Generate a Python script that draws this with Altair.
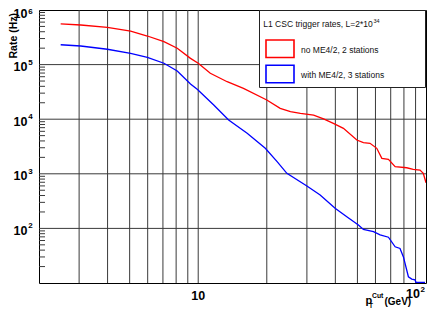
import altair as alt
import pandas as pd

# ---- data ----
SERIES = ["no ME4/2, 2 stations", "with ME4/2, 3 stations"]
COLORS = ["#ff0000", "#0000ff"]

red_x = [2.49, 3.05, 3.99, 5.05, 5.98, 7.07, 8.09, 9.25, 10.0, 11.3, 13.4, 15.8, 20.0, 22.9,
         25.4, 28.1, 32.1, 35.5, 39.2, 43.4, 49.7, 53.1, 56.8, 60.8, 64.0, 68.4, 73.2, 82.3,
         87.9, 94.1, 97.3, 100.0]
red_y = [5.55e5, 5.31e5, 4.82e5, 4.12e5, 3.34e5, 2.63e5, 1.99e5, 1.30e5, 1.06e5, 6.93e4,
         4.86e4, 3.68e4, 2.25e4, 1.58e4, 1.37e4, 1.28e4, 1.19e4, 1.01e4, 8.41e3, 6.81e3,
         4.16e3, 3.71e3, 3.62e3, 2.93e3, 1.92e3, 1.84e3, 1.35e3, 1.29e3, 1.21e3, 1.17e3,
         1.02e3, 687]

blue_x = [2.49, 3.05, 3.99, 5.05, 5.98, 7.07, 8.09, 9.25, 9.9, 11.7, 13.6, 16.4, 19.7, 22.2,
          24.5, 30.0, 34.3, 39.9, 44.9, 50.5, 53.1, 58.8, 62.9, 68.4, 73.2, 76.9, 79.6, 83.7,
          86.6, 89.5, 90.3, 99.0]
blue_y = [2.31e5, 2.19e5, 1.91e5, 1.61e5, 1.36e5, 1.06e5, 7.64e4, 4.41e4, 3.53e4, 1.82e4,
          9.67e3, 5.52e3, 2.93e3, 1.67e3, 1.02e3, 598, 409, 233, 164, 115, 96, 87, 76, 69,
          46, 43, 30, 13, 11.8, 11.4, 10.3, 10.3]

X_DOMAIN = [2, 100]
Y_DOMAIN = [10, 1e6]
X_GRID = [3, 4, 5, 6, 7, 8, 9, 10, 20, 30, 40, 50, 60, 70, 80, 90]
Y_GRID = [1e2, 1e3, 1e4, 1e5]
Y_MINOR = [k * 10 ** n for n in range(1, 6) for k in range(2, 10)]
Y_LABEL_EXP = ["2", "3", "4", "5"]
Y_TOP_EXP = "6"
LEGEND_TITLE = "L1 CSC trigger rates, L=2*10"
LEGEND_TITLE_SUP = "34"
X_TITLE = ["p", "T", "Cut", "(GeV)"]
Y_TITLE = "Rate (Hz)"

# ---- build ----
FONT = "Liberation Sans"
GRID = "#3a3a3a"
xs = alt.Scale(type="log", domain=X_DOMAIN, nice=False)
ys = alt.Scale(type="log", domain=Y_DOMAIN, nice=False)

curves = pd.concat([
    pd.DataFrame({"x": red_x, "y": red_y, "series": SERIES[0]}),
    pd.DataFrame({"x": blue_x, "y": blue_y, "series": SERIES[1]}),
])

vgrid = alt.Chart(pd.DataFrame({"gx": X_GRID})).mark_rule(color=GRID, strokeWidth=1).encode(
    x=alt.X("gx:Q", scale=xs, axis=None))
hgrid = alt.Chart(pd.DataFrame({"gy": Y_GRID})).mark_rule(color=GRID, strokeWidth=1).encode(
    y=alt.Y("gy:Q", scale=ys, axis=None))
yminor = alt.Chart(pd.DataFrame({"v": Y_MINOR})).mark_rule(color=GRID, strokeWidth=1).encode(
    y=alt.Y("v:Q", scale=ys, axis=None), x=alt.value(0), x2=alt.value(6))

lines = alt.Chart(curves).mark_line(strokeWidth=1.3, clip=True).encode(
    x=alt.X("x:Q", scale=xs, axis=None),
    y=alt.Y("y:Q", scale=ys, axis=None),
    color=alt.Color("series:N", scale=alt.Scale(domain=SERIES, range=COLORS), legend=None),
)


def ylabels(exps, dy_base, dy_exp):
    df = pd.DataFrame({"v": [10.0 ** int(e) for e in exps], "exp": exps, "base": "10"})
    b = alt.Chart(df).mark_text(
        align="right", baseline="middle", dx=-11.5, dy=dy_base, font=FONT, fontWeight="bold",
        fontSize=12.5, color="black").encode(
        y=alt.Y("v:Q", scale=ys, axis=None), x=alt.value(0), text="base:N")
    e = alt.Chart(df).mark_text(
        align="left", baseline="middle", dx=-10.8, dy=dy_exp, font=FONT, fontWeight="bold",
        fontSize=8, color="black").encode(
        y=alt.Y("v:Q", scale=ys, axis=None), x=alt.value(0), text="exp:N")
    return [b, e]


ylab_layers = ylabels(Y_LABEL_EXP, 2.5, -2) + ylabels([Y_TOP_EXP], 4.2, 2.2)

xlab10 = alt.Chart(pd.DataFrame({"v": [10], "t": ["10"]})).mark_text(
    align="center", baseline="middle", font=FONT, fontWeight="bold", fontSize=12.5,
    color="black").encode(x=alt.X("v:Q", scale=xs, axis=None), y=alt.value(286), text="t:N")
xlab100 = alt.Chart(pd.DataFrame({"v": [100], "t": ["10"]})).mark_text(
    align="right", baseline="middle", dx=-6, font=FONT, fontWeight="bold", fontSize=12.5,
    color="black").encode(x=alt.X("v:Q", scale=xs, axis=None), y=alt.value(283.5), text="t:N")
xlab100e = alt.Chart(pd.DataFrame({"v": [100], "t": ["2"]})).mark_text(
    align="left", baseline="middle", dx=-5.5, font=FONT, fontWeight="bold", fontSize=8,
    color="black").encode(x=alt.X("v:Q", scale=xs, axis=None), y=alt.value(279.5), text="t:N")

one = pd.DataFrame({"a": [0]})


def txt(s, x, y, size, weight="bold", align="left", baseline="alphabetic", angle=0,
        font=FONT, color="black"):
    kw = dict(align=align, baseline=baseline, font=font, fontWeight=weight,
              fontSize=size, color=color, text=s)
    if angle:
        kw["angle"] = angle
    return alt.Chart(one).mark_text(**kw).encode(x=alt.value(x), y=alt.value(y))


xt_p = txt(X_TITLE[0], 326.5, 294.3, 11)
xt_T = txt(X_TITLE[1], 330, 297.8, 6.5)
xt_cut = txt(X_TITLE[2], 333, 287.5, 6.8)
xt_gev = txt(X_TITLE[3], 345.5, 294.5, 10, font="Liberation Sans Narrow, " + FONT)
yt = txt(Y_TITLE, -25.5, 3, 10.5, align="right", baseline="middle", angle=270)

leg_box = alt.Chart(one).mark_rect(fill="white", stroke="#222", strokeWidth=1).encode(
    x=alt.value(220.5), x2=alt.value(386.5), y=alt.value(0.5), y2=alt.value(77.5))
leg_title = txt(LEGEND_TITLE, 224.3, 14, 8.5, weight="normal", baseline="middle", color="#111")
leg_sup = txt(LEGEND_TITLE_SUP, 334.5, 11.2, 5.5, weight="normal", baseline="middle", color="#111")

legend_layers = []
for i, (name, col) in enumerate(zip(SERIES, COLORS)):
    top = 30 + 25.3 * i
    legend_layers.append(
        alt.Chart(one).mark_rect(fill="white", fillOpacity=0, stroke=col, strokeWidth=1.6).encode(
            x=alt.value(227), x2=alt.value(255), y=alt.value(top), y2=alt.value(top + 17.5)))
    legend_layers.append(txt(name, 262, top + 9.8, 8.5, weight="normal", baseline="middle", color="#111"))

chart = alt.layer(
    vgrid, hgrid, yminor, lines, leg_box, leg_title, leg_sup, *legend_layers,
    *ylab_layers, xlab10, xlab100, xlab100e, xt_p, xt_T, xt_cut, xt_gev, yt,
).properties(
    width=387, height=273,
    padding={"left": 31, "top": 2, "right": 2, "bottom": 25},
    autosize=alt.AutoSizeParams(type="none"),
    background="white",
).configure_view(stroke="black", strokeWidth=1)

chart.save("out.html", embed_options={"renderer": "svg", "actions": False})
